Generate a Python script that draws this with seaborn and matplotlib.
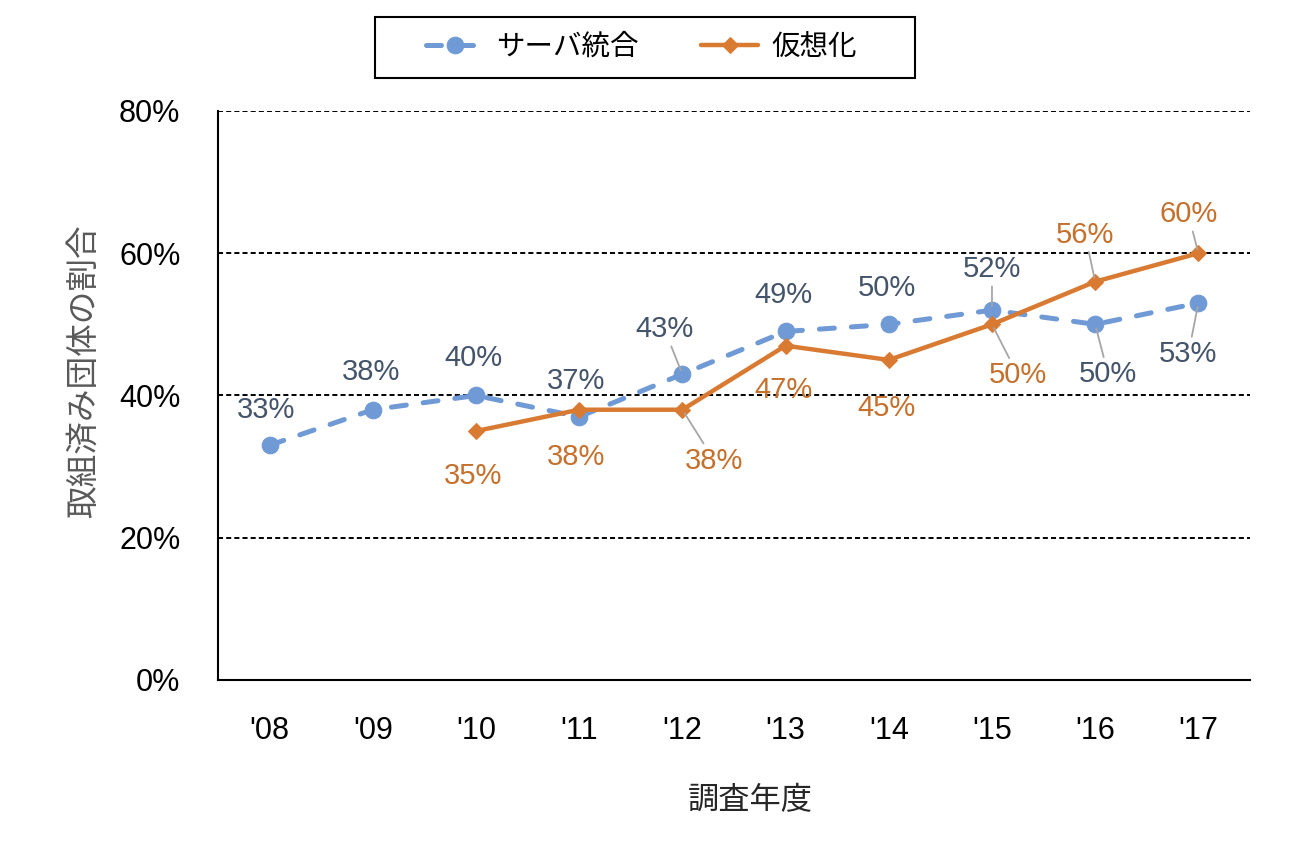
import numpy as np
import pandas as pd
import matplotlib
matplotlib.use("Agg")
import matplotlib.pyplot as plt
from matplotlib.patches import Rectangle
import seaborn as sns

years = ["'08", "'09", "'10", "'11", "'12", "'13", "'14", "'15", "'16", "'17"]
server = [33, 38, 40, 37, 43, 49, 50, 52, 50, 53]
virtual = [np.nan, np.nan, 35, 38, 38, 47, 45, 50, 56, 60]
series_names = ["サーバ統合", "仮想化"]
y_ticks = [0, 20, 40, 60, 80]
x_title = "調査年度"
y_title = "取組済み団体の割合"

# label offsets in pixels (dx, dy) and whether a leader line is drawn
server_off = [(-3, 35, False), (-2, 38, False), (-3, 37, False), (-3, 36, False),
              (-18, 45, True), (-2, 36, False), (-2, 36, False), (0, 41, True),
              (13, -50, True), (-10, -51, True)]
virtual_off = [None, None, (-3, -45, False), (-3, -47, False), (32, -51, True),
               (-2, -44, False), (-2, -48, False), (26, -51, True),
               (-10, 47, True), (-10, 39, True)]

sns.set_theme(style="white")
plt.rcParams['font.family'] = ['Liberation Sans', 'Noto Sans CJK JP', 'DejaVu Sans']

BLUE = "#6F9AD5"
BLUE_TXT = "#44546A"
ORANGE = "#D97A32"
ORANGE_TXT = "#C5702D"

df = pd.DataFrame({"pos": np.arange(len(years)), "year": years,
                   "server": server, "virtual": virtual})

fig = plt.figure(figsize=(13.13, 8.42), dpi=100)
ax = fig.add_axes([0.166, 0.1924, 0.786, 0.6758])

sns.lineplot(data=df, x="pos", y="server", ax=ax, color=BLUE, lw=3.6,
             linestyle=(0, (3.0, 3.4)), dash_capstyle="round", marker="o",
             markersize=12, markeredgecolor=BLUE, label=series_names[0], zorder=3)
sns.lineplot(data=df.dropna(), x="pos", y="virtual", ax=ax, color=ORANGE, lw=3.2,
             marker="D", markersize=8.5, markeredgecolor=ORANGE,
             label=series_names[1], zorder=4)

ax.set_xlim(-0.5, len(years) - 0.5)
ax.set_ylim(0, 80)
ax.set_xticks(df["pos"])
ax.set_xticklabels(years)
ax.set_yticks(y_ticks)
ax.set_yticklabels([f"{v}%" for v in y_ticks])
ax.tick_params(axis="x", length=0, pad=26, labelsize=22, colors="#000000")
ax.tick_params(axis="y", length=0, pad=27, labelsize=22, colors="#000000")

for v in y_ticks[1:]:
    ax.axhline(v, color="black", lw=1.4, linestyle=(0, (2.6, 1.6)), zorder=1)

for s in ["top", "right"]:
    ax.spines[s].set_visible(False)
for s in ["left", "bottom"]:
    ax.spines[s].set_color("black")
    ax.spines[s].set_linewidth(1.5)

ax.set_xlabel(x_title, fontsize=22.5, color="#262626", labelpad=29)
ax.set_ylabel(y_title, fontsize=23.5, color="#595959", labelpad=14)
ax.xaxis.label.set_x(0.516)
ax.yaxis.label.set_y(0.543)

def label(vals, offs, col):
    for i, (v, o) in enumerate(zip(vals, offs)):
        if o is None or np.isnan(v):
            continue
        dx, dy, lead = o
        kw = {}
        if lead:
            kw["arrowprops"] = dict(arrowstyle="-", color="#A6A6A6", lw=1.3,
                                    shrinkA=0, shrinkB=3)
        ax.annotate(f"{int(v)}%", xy=(i, v), xytext=(dx, dy),
                    textcoords="offset pixels", ha="center", va="center",
                    fontsize=21, color=col, zorder=6, **kw)

label(server, server_off, BLUE_TXT)
label(virtual, virtual_off, ORANGE_TXT)

ax.get_legend().remove()
h, l = ax.get_legend_handles_labels()
leg = fig.legend(h, l, loc="center", bbox_to_anchor=(0.4886, 0.9436), ncol=2,
                 fontsize=20.5, frameon=False, handlelength=2.0,
                 columnspacing=2.2, handletextpad=0.45)
for t in leg.get_texts():
    t.set_color("black")
fig.add_artist(Rectangle((375 / 1313, 1 - 78 / 842), 540 / 1313, 61 / 842,
                         transform=fig.transFigure, fill=False,
                         edgecolor="black", lw=1.5))

fig.savefig("out.png", dpi=100, facecolor="white")
